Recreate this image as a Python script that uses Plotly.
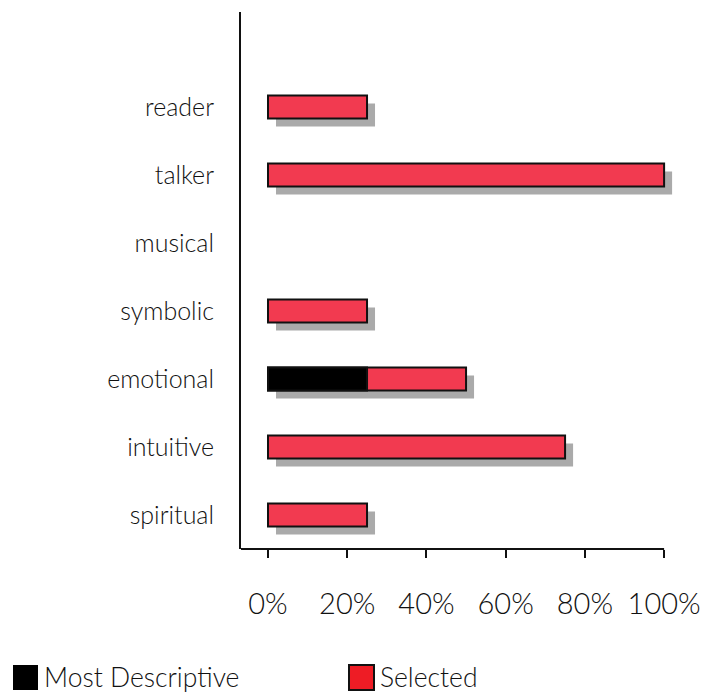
import plotly.graph_objects as go

categories = ["reader", "talker", "musical", "symbolic", "emotional", "intuitive", "spiritual"]
selected = [25, 100, 0, 25, 50, 75, 25]
most_descriptive = [0, 0, 0, 0, 25, 0, 0]
tick_vals = [0, 20, 40, 60, 80, 100]
tick_text = ["0%", "20%", "40%", "60%", "80%", "100%"]

n = len(categories)
ypos = [n - 1 - i for i in range(n)]  # reader at top

FONT = "Lato"
TXT = "#111111"
RED = "#f23a50"
px_per_unit = 3.96
shadow_dx = 8 / px_per_unit
shadow_dy = 8 / 68.0
bw = 0.34

def nz(v):
    return [x if x else None for x in v]

fig = go.Figure()
# shadow
fig.add_trace(go.Bar(
    y=[y - shadow_dy for y in ypos], x=nz(selected), base=shadow_dx, orientation="h",
    width=bw, marker=dict(color="#aaaaaa", line=dict(width=0)), showlegend=False, hoverinfo="skip"))
# selected
fig.add_trace(go.Bar(
    y=ypos, x=nz(selected), orientation="h", width=bw, name="Selected",
    marker=dict(color=RED, line=dict(color="#111111", width=2)), showlegend=False))
# most descriptive
fig.add_trace(go.Bar(
    y=ypos, x=nz(most_descriptive), orientation="h", width=bw, name="Most Descriptive",
    marker=dict(color="#000000", line=dict(color="#111111", width=2)), showlegend=False))

x0 = -27 / px_per_unit
fig.update_layout(
    width=720, height=698, barmode="overlay",
    margin=dict(l=241, r=46, t=12, b=149),
    paper_bgcolor="white", plot_bgcolor="white",
    font=dict(family=FONT, size=25, color=TXT, weight=300),
    xaxis=dict(range=[x0, 102.5], tickvals=tick_vals, ticktext=tick_text,
               showgrid=False, zeroline=False, showline=False,
               ticks="outside", ticklen=8, tickwidth=2, tickcolor="#111111",
               ticklabelstandoff=21, tickfont=dict(family=FONT, size=29, color=TXT, weight=300)),
    yaxis=dict(range=[-0.5, 6.5 + 61 / 68.0], tickvals=ypos, ticktext=categories,
               showgrid=False, zeroline=False, showline=True, linecolor="#111111", linewidth=2,
               ticks="", ticklabelstandoff=20, tickfont=dict(family=FONT, size=25, color=TXT, weight=300)),
    showlegend=False,
)
# bottom axis line ending at 100%
fig.add_shape(type="line", xref="x", yref="paper", x0=x0, x1=100, y0=0, y1=0,
              line=dict(color="#111111", width=2))

# manual legend
def legend_item(xpx, color, border, label):
    fig.add_shape(type="rect", xref="paper", yref="paper",
                  x0=(xpx - 241) / 433.0, x1=(xpx + 25 - 241) / 433.0,
                  y0=(549 - 690) / 537.0, y1=(549 - 665) / 537.0,
                  fillcolor=color, line=dict(color=border, width=2 if border != color else 0))
    fig.add_annotation(xref="paper", yref="paper", x=(xpx + 29 - 241) / 433.0,
                       y=(549 - 677) / 537.0, text=label, showarrow=False,
                       xanchor="left", yanchor="middle",
                       font=dict(family=FONT, size=26.5, color=TXT, weight=300))

legend_item(13, "#000000", "#000000", "Most Descriptive")
legend_item(349, "#ee1c25", "#111111", "Selected")

fig.write_html("out.html")
